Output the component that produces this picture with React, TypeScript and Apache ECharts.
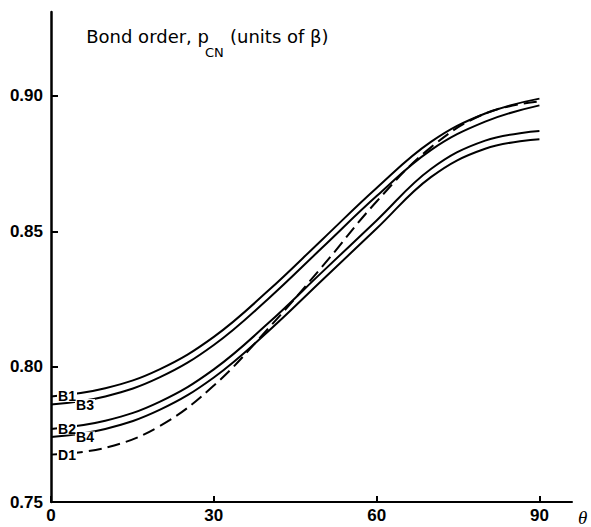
import React, { useEffect, useRef } from "react";
import * as echarts from "echarts";

// twist angle θ (degrees)
const theta = [0, 10, 20, 30, 40, 50, 60, 70, 80, 90];
// bond order p_CN (units of β)
const b1 = [0.789, 0.792, 0.799, 0.811, 0.828, 0.847, 0.866, 0.883, 0.8935, 0.899];
const b3 = [0.786, 0.789, 0.796, 0.808, 0.825, 0.844, 0.863, 0.880, 0.8905, 0.8965];
const b2 = [0.777, 0.780, 0.787, 0.799, 0.816, 0.835, 0.854, 0.873, 0.8835, 0.887];
const b4 = [0.774, 0.777, 0.784, 0.796, 0.813, 0.832, 0.851, 0.870, 0.8805, 0.884];
const d1 = [0.7675, 0.770, 0.778, 0.793, 0.814, 0.837, 0.861, 0.881, 0.8935, 0.898];

const xTicks = [0, 30, 60, 90];
const yTicks = [0.75, 0.8, 0.85, 0.9];

const seriesDefs = [
  { name: "B1", values: b1, dashed: false, labelOffset: 16 },
  { name: "B3", values: b3, dashed: false, labelOffset: 34 },
  { name: "B2", values: b2, dashed: false, labelOffset: 16 },
  { name: "B4", values: b4, dashed: false, labelOffset: 34 },
  { name: "D1", values: d1, dashed: true, labelOffset: 16 },
];

const FONT = "Liberation Sans";
const TITLE_FONT = "DejaVu Sans";

export default function App() {
  const ref = useRef<HTMLDivElement>(null);
  useEffect(() => {
    if (!ref.current) return;
    const chart = echarts.init(ref.current, undefined, { renderer: "svg" });
    const series = seriesDefs.map((s) => ({
      type: "line",
      name: s.name,
      data: theta.map((t, i) => [t, s.values[i]]),
      showSymbol: false,
      smooth: 0.4,
      lineStyle: {
        color: "#000",
        width: 2,
        type: s.dashed ? [13, 6] : "solid",
      },
      markPoint: {
        silent: true,
        z: 5,
        data: [
          {
            coord: [theta[0], s.values[0]],
            symbol: "rect",
            symbolSize: [20, 11],
            symbolOffset: [s.labelOffset, 0],
            itemStyle: { color: "#fff" },
            label: {
              show: true,
              position: "inside",
              formatter: s.name,
              color: "#000",
              fontSize: 14,
              fontWeight: "bold",
              fontFamily: FONT,
            },
          },
        ],
      },
    }));
    chart.setOption({
      animation: false,
      backgroundColor: "#fff",
      grid: { left: 51, right: 19, top: 12, bottom: 24 },
      xAxis: {
        type: "value",
        min: 0,
        max: 96,
        name: "θ",
        nameLocation: "end",
        nameGap: 6,
        nameTextStyle: {
          color: "#000",
          fontSize: 19,
          fontStyle: "italic",
          fontFamily: "Liberation Serif",
          verticalAlign: "top",
          padding: [6, 0, 0, 0],
        },
        axisLine: { lineStyle: { color: "#000", width: 2 } },
        axisTick: {
          inside: true,
          length: 6,
          customValues: xTicks,
          lineStyle: { color: "#000", width: 2 },
        },
        axisLabel: {
          customValues: xTicks,
          color: "#000",
          fontSize: 17,
          fontWeight: "bold",
          fontFamily: FONT,
          margin: 5,
        },
        splitLine: { show: false },
      },
      yAxis: {
        type: "value",
        min: 0.75,
        max: 0.931,
        axisLine: { show: true, lineStyle: { color: "#000", width: 2.5 } },
        axisTick: {
          show: true,
          inside: true,
          length: 7,
          customValues: yTicks,
          lineStyle: { color: "#000", width: 2 },
        },
        axisLabel: {
          customValues: yTicks,
          formatter: (v: number) => v.toFixed(2),
          color: "#000",
          fontSize: 17,
          fontWeight: "bold",
          fontFamily: FONT,
          margin: 8,
        },
        splitLine: { show: false },
      },
      graphic: [
        {
          type: "text",
          x: 209,
          y: 27,
          style: {
            text: "Bond order, p",
            fill: "#000",
            font: `18px "${TITLE_FONT}"`,
            textAlign: "right",
            textVerticalAlign: "top",
          },
        },
        {
          type: "text",
          x: 205,
          y: 46,
          style: {
            text: "CN",
            fill: "#000",
            font: `13px "${TITLE_FONT}"`,
            textAlign: "left",
            textVerticalAlign: "top",
          },
        },
        {
          type: "text",
          x: 230,
          y: 27,
          style: {
            text: "(units of β)",
            fill: "#000",
            font: `18px "${TITLE_FONT}"`,
            textAlign: "left",
            textVerticalAlign: "top",
          },
        },
      ],
      series,
    });
    return () => chart.dispose();
  }, []);
  return (
    <div
      ref={ref}
      style={{ position: "fixed", left: 0, top: 0, width: 591, height: 527 }}
    />
  );
}
